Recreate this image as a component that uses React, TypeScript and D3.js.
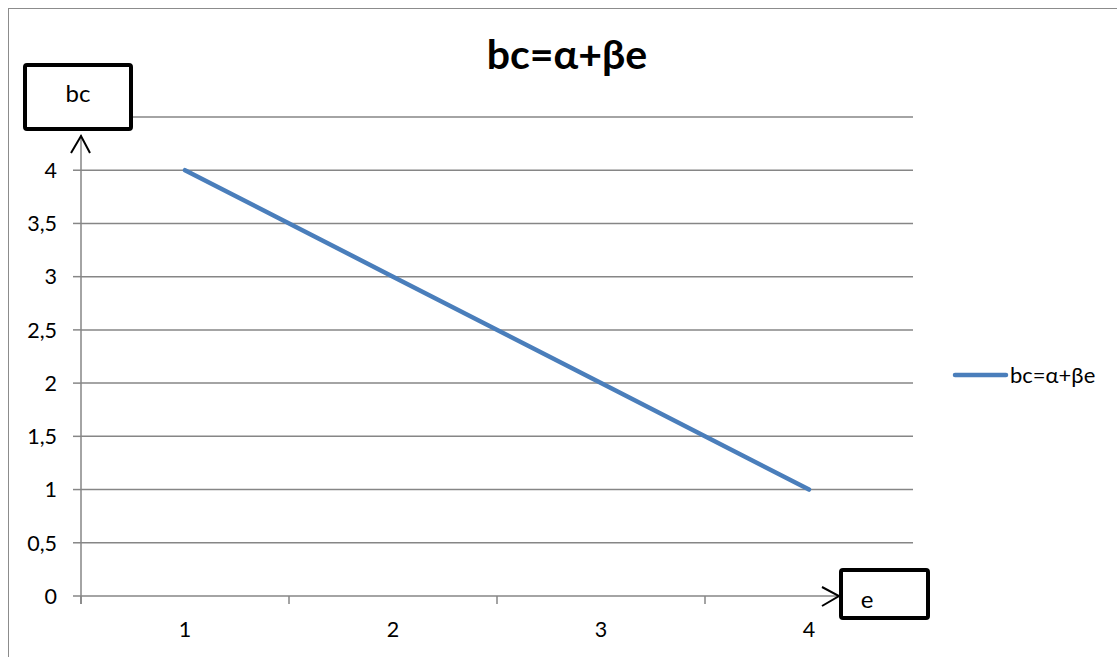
import React from "react";
import * as d3 from "d3";

const categories = ["1", "2", "3", "4"];
const seriesValues = [4, 3, 2, 1];
const yTickValues = [0, 0.5, 1, 1.5, 2, 2.5, 3, 3.5, 4];
const yTickLabels = ["0", "0,5", "1", "1,5", "2", "2,5", "3", "3,5", "4"];
const gridValues = [0, 0.5, 1, 1.5, 2, 2.5, 3, 3.5, 4, 4.5];
const seriesName = "bc=α+βe";
const titleText = "bc=α+βe";
const yAxisTitle = "bc";
const xAxisTitle = "e";

const FONT = "Lato, 'Open Sans', sans-serif";

export default function App() {
  const plotLeft = 81;
  const plotRight = 913;
  const x = d3.scaleBand<string>().domain(categories).range([plotLeft, plotRight]);
  const y = d3.scaleLinear().domain([0, 4.5]).range([596, 117]);
  const line = d3
    .line<number>()
    .x((_, i) => (x(categories[i]) as number) + x.bandwidth() / 2)
    .y((d) => y(d));
  const xTickPositions = [...categories.map((c) => x(c) as number), plotRight];
  const grey = "#868686";
  const y0 = y(0);

  return (
    <svg
      width={1117}
      height={657}
      style={{ position: "absolute", left: 0, top: 0, background: "#fff" }}
    >
      <rect x={8.5} y={8.5} width={1200} height={700} fill="#fff" stroke="#8c8c8c" strokeWidth={1} />
      {gridValues.map((v) => (
        <line key={"g" + v} x1={plotLeft} x2={plotRight} y1={y(v)} y2={y(v)} stroke={grey} strokeWidth={1.5} />
      ))}
      {gridValues.map((v) => (
        <line key={"yt" + v} x1={plotLeft - 8} x2={plotLeft} y1={y(v)} y2={y(v)} stroke={grey} strokeWidth={1.5} />
      ))}
      {xTickPositions.map((p, i) => (
        <line key={"xt" + i} x1={p} x2={p} y1={y0} y2={y0 + 8} stroke={grey} strokeWidth={1.5} />
      ))}
      <line x1={plotLeft} x2={plotLeft} y1={135} y2={y0 + 8} stroke={grey} strokeWidth={1.5} />
      {yTickValues.map((v, i) => (
        <text
          key={"yl" + v}
          x={57}
          y={y(v)}
          dy="0.36em"
          textAnchor="end"
          fontFamily={FONT}
          fontSize={21.5}
          fill="#000"
        >
          {yTickLabels[i]}
        </text>
      ))}
      {categories.map((c) => (
        <text
          key={"xl" + c}
          x={(x(c) as number) + x.bandwidth() / 2}
          y={637}
          textAnchor="middle"
          fontFamily={FONT}
          fontSize={21.5}
          fill="#000"
        >
          {c}
        </text>
      ))}
      <path d={line(seriesValues) || ""} fill="none" stroke="#4a7ebb" strokeWidth={4.5} strokeLinecap="round" />
      <text x={567} y={69} textAnchor="middle" fontFamily={FONT} fontWeight="bold" fontSize={41} fill="#000">
        {titleText}
      </text>
      <line x1={955} x2={1006} y1={375} y2={375} stroke="#4a7ebb" strokeWidth={4.5} strokeLinecap="round" />
      <text x={1010} y={383} fontFamily={FONT} fontSize={22} fill="#000">
        {seriesName}
      </text>
      <rect x={25} y={65} width={106} height={64} rx={2} fill="#fff" stroke="#000" strokeWidth={4} />
      <text x={78} y={102} textAnchor="middle" fontFamily={FONT} fontSize={24} fill="#000">
        {yAxisTitle}
      </text>
      <polyline points="71,153 81,136 90,153" fill="none" stroke="#000" strokeWidth={2} />
      <rect x={841} y={570} width={87} height={48} rx={2} fill="#fff" stroke="#000" strokeWidth={4} />
      <text x={867} y={608} textAnchor="middle" fontFamily={FONT} fontSize={24} fill="#000">
        {xAxisTitle}
      </text>
      <polyline points="822,587 839,596 822,606" fill="none" stroke="#000" strokeWidth={2} />
    </svg>
  );
}
